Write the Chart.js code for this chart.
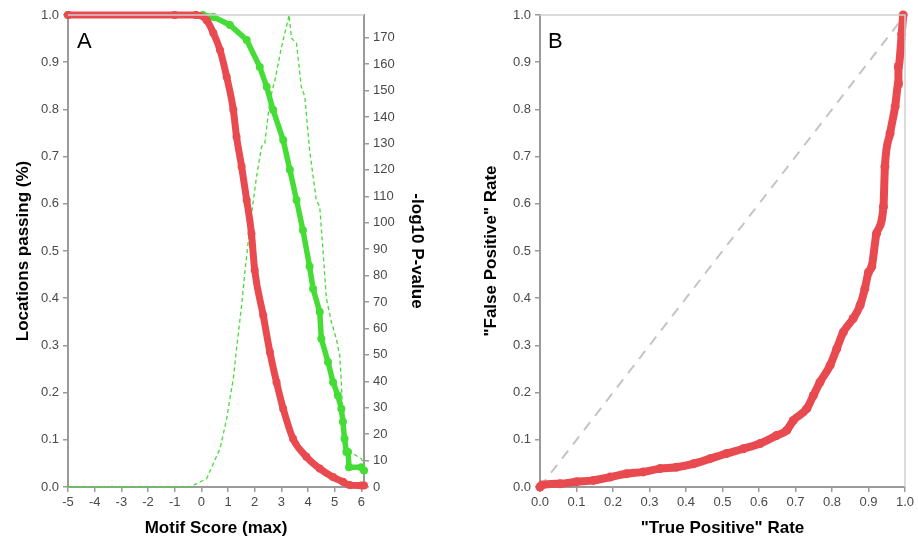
<!DOCTYPE html>
<html>
<head>
<meta charset="UTF-8">
<title>Motif score / ROC</title>
<script src="https://cdn.jsdelivr.net/npm/chart.js"></script>
<style>
  body { margin: 0; background: #fff; font-family: 'Liberation Sans', Arial, sans-serif; }
  .panel { position: absolute; top: 0; }
  .tag { position: absolute; font-size: 22px; color: #000; line-height: 1; }
</style>
</head>
<body>
<div class="panel" style="left:0"><canvas id="chartA" width="460" height="544"></canvas></div>
<div class="panel" style="left:460px"><canvas id="chartB" width="458" height="544"></canvas></div>
<div class="tag" style="left:77px;top:30px">A</div>
<div class="tag" style="left:548px;top:30px">B</div>
<script>
// --- panel A: locations passing vs motif score ---
const redScore = [-5, -1, -0.2, 0.2, 0.45, 0.7, 0.95, 1.2, 1.32, 1.51, 1.7, 1.88, 2.0, 2.32, 2.57, 2.82, 3.07, 3.44, 3.94, 4.44, 4.94, 5.31, 5.56, 6.0, 6.1];
const redPass  = [1, 1, 1, 0.989, 0.962, 0.926, 0.869, 0.799, 0.742, 0.679, 0.608, 0.537, 0.46, 0.364, 0.286, 0.222, 0.166, 0.102, 0.064, 0.039, 0.021, 0.011, 0.004, 0.003, 0.003];

const greenScore = [-5, 0.06, 0.45, 1.07, 1.7, 2.19, 2.45, 2.69, 3.07, 3.32, 3.57, 3.81, 4.06, 4.19, 4.44, 4.5, 4.75, 4.94, 5.12, 5.25, 5.31, 5.37, 5.44, 5.5, 5.54, 6.0, 6.1];
const greenPass  = [1, 1, 0.996, 0.979, 0.947, 0.89, 0.848, 0.799, 0.735, 0.672, 0.608, 0.544, 0.467, 0.42, 0.371, 0.314, 0.265, 0.222, 0.194, 0.166, 0.138, 0.102, 0.074, 0.074, 0.042, 0.042, 0.035];

const pvalScore = [-5, -0.42, -0.05, 0.2, 0.7, 0.95, 1.07, 1.2, 1.32, 1.51, 1.63, 1.82, 2.07, 2.26, 2.38, 2.57, 2.76, 3.01, 3.13, 3.25, 3.29, 3.38, 3.57, 3.75, 3.88, 4.06, 4.31, 4.44, 4.56, 4.69, 4.88, 5.06, 5.19, 5.25, 5.31, 5.44, 5.69, 6.0, 6.1];
const pvalLog   = [0, 0, 1.9, 3.2, 14.5, 25.8, 33.4, 41, 52.3, 68.7, 81, 98.5, 117.4, 128.8, 130, 146.4, 154, 166.6, 171.7, 176.7, 178.6, 169.8, 167.9, 151.4, 147.7, 127.5, 108.6, 106, 89.7, 71.3, 62.4, 56.1, 49.8, 39.7, 24.6, 14.5, 12.6, 10.7, 8.6];

// --- panel B: ROC-style curve ---
const tpRate = [0, 0.005, 0.055, 0.1, 0.146, 0.192, 0.237, 0.283, 0.329, 0.374, 0.42, 0.466, 0.511, 0.557, 0.603, 0.648, 0.676, 0.694, 0.731, 0.749, 0.767, 0.795, 0.813, 0.831, 0.858, 0.877, 0.89, 0.9, 0.909, 0.922, 0.941, 0.945, 0.959, 0.973, 0.982, 0.982, 0.991, 0.995];
const fpRate = [0, 0.004, 0.007, 0.011, 0.014, 0.021, 0.028, 0.032, 0.039, 0.042, 0.049, 0.06, 0.071, 0.081, 0.092, 0.109, 0.12, 0.141, 0.166, 0.194, 0.222, 0.258, 0.293, 0.328, 0.357, 0.385, 0.42, 0.455, 0.467, 0.537, 0.594, 0.679, 0.749, 0.806, 0.855, 0.89, 0.96, 1.0];
const diagX = [0, 1];
const diagY = [0, 1];

const RED = '#e84a4f';
const GREEN = '#45dd35';
const AXIS = '#9a9a9a';
const TICK_TXT = '#4a4a4a';

const zip = (xs, ys) => xs.map((x, i) => ({ x: x, y: ys[i] }));
const tickFont = { family: "'Liberation Sans', Arial, sans-serif", size: 13 };
const titleFont = { family: "'Liberation Sans', Arial, sans-serif", size: 17, weight: 'bold' };

function fixWidth(w) { return scale => { scale.width = w; }; }
function fixHeight(h) { return scale => { scale.height = h; }; }

// light frame on the top / right of the plot area
const frame = {
  id: 'frame',
  afterDraw(chart, args, opts) {
    const { ctx, chartArea: a } = chart;
    ctx.save();
    ctx.strokeStyle = '#cfcfcf';
    ctx.lineWidth = 1.5;
    ctx.beginPath();
    ctx.moveTo(a.left, a.top);
    ctx.lineTo(a.right, a.top);
    if (opts.right) ctx.lineTo(a.right, a.bottom);
    ctx.stroke();
    ctx.restore();
  }
};

function axisGrid() {
  return { display: true, drawOnChartArea: false, drawTicks: true, tickLength: 5, color: AXIS, lineWidth: 1.5 };
}

new Chart(document.getElementById('chartA'), {
  type: 'scatter',
  data: {
    datasets: [
      {
        data: zip(redScore, redPass), yAxisID: 'y', showLine: true,
        borderColor: RED, backgroundColor: RED, borderWidth: 7,
        pointRadius: 4, pointBorderWidth: 0, cubicInterpolationMode: 'monotone', clip: 6
      },
      {
        data: zip(greenScore, greenPass), yAxisID: 'y', showLine: true,
        borderColor: GREEN, backgroundColor: GREEN, borderWidth: 5.5,
        pointRadius: 4, pointBorderWidth: 0, clip: 6
      },
      {
        data: zip(pvalScore, pvalLog), yAxisID: 'y1', showLine: true,
        borderColor: GREEN, borderWidth: 1.3, borderDash: [4, 3],
        pointRadius: 0, clip: 4
      }
    ]
  },
  options: {
    responsive: false,
    animation: false,
    layout: { padding: { top: 15, right: 0, left: 0, bottom: 0 } },
    plugins: { legend: { display: false }, tooltip: { enabled: false }, frame: { right: false } },
    scales: {
      x: {
        type: 'linear', min: -5, max: 6.1,
        afterFit: fixHeight(57),
        border: { color: AXIS, width: 2 },
        grid: axisGrid(),
        ticks: { stepSize: 1, includeBounds: false, color: TICK_TXT, font: tickFont, padding: 3, maxRotation: 0 },
        title: { display: true, text: 'Motif Score (max)', color: '#000', font: titleFont, padding: { top: 4, bottom: 5 } }
      },
      y: {
        type: 'linear', position: 'left', min: 0, max: 1,
        afterFit: fixWidth(68),
        border: { color: AXIS, width: 2 },
        grid: axisGrid(),
        ticks: { stepSize: 0.1, color: TICK_TXT, font: tickFont, padding: 4, callback: v => v.toFixed(1) },
        title: { display: true, text: 'Locations passing (%)', color: '#000', font: titleFont, padding: { top: 13, bottom: 0 } }
      },
      y1: {
        type: 'linear', position: 'right', min: 0, max: 178.6,
        afterFit: fixWidth(96),
        border: { color: AXIS, width: 2 },
        grid: axisGrid(),
        ticks: { stepSize: 10, includeBounds: false, color: TICK_TXT, font: tickFont, padding: 4 },
        title: { display: true, text: '-log10 P-value', color: '#000', font: titleFont, padding: { top: 33, bottom: 0 } }
      }
    }
  },
  plugins: [frame]
});

new Chart(document.getElementById('chartB'), {
  type: 'scatter',
  data: {
    datasets: [
      {
        data: zip(tpRate, fpRate), showLine: true,
        borderColor: RED, backgroundColor: RED, borderWidth: 8,
        pointRadius: 4.5, pointBorderWidth: 0, cubicInterpolationMode: 'monotone', clip: 6
      },
      {
        data: zip(diagX, diagY), showLine: true,
        borderColor: '#c4c4c4', borderWidth: 2, borderDash: [10, 8],
        pointRadius: 0
      }
    ]
  },
  options: {
    responsive: false,
    animation: false,
    layout: { padding: { top: 15, right: 13, left: 0, bottom: 0 } },
    plugins: { legend: { display: false }, tooltip: { enabled: false }, frame: { right: true } },
    scales: {
      x: {
        type: 'linear', min: 0, max: 1,
        afterFit: fixHeight(57),
        border: { color: AXIS, width: 2 },
        grid: axisGrid(),
        ticks: { stepSize: 0.1, color: TICK_TXT, font: tickFont, padding: 3, maxRotation: 0, callback: v => v.toFixed(1) },
        title: { display: true, text: '"True Positive" Rate', color: '#000', font: titleFont, padding: { top: 4, bottom: 5 } }
      },
      y: {
        type: 'linear', min: 0, max: 1,
        afterFit: fixWidth(80),
        border: { color: AXIS, width: 2 },
        grid: axisGrid(),
        ticks: { stepSize: 0.1, color: TICK_TXT, font: tickFont, padding: 4, callback: v => v.toFixed(1) },
        title: { display: true, text: '"False Positive" Rate', color: '#000', font: titleFont, padding: { top: 21, bottom: 0 } }
      }
    }
  },
  plugins: [frame]
});
</script>
</body>
</html>
